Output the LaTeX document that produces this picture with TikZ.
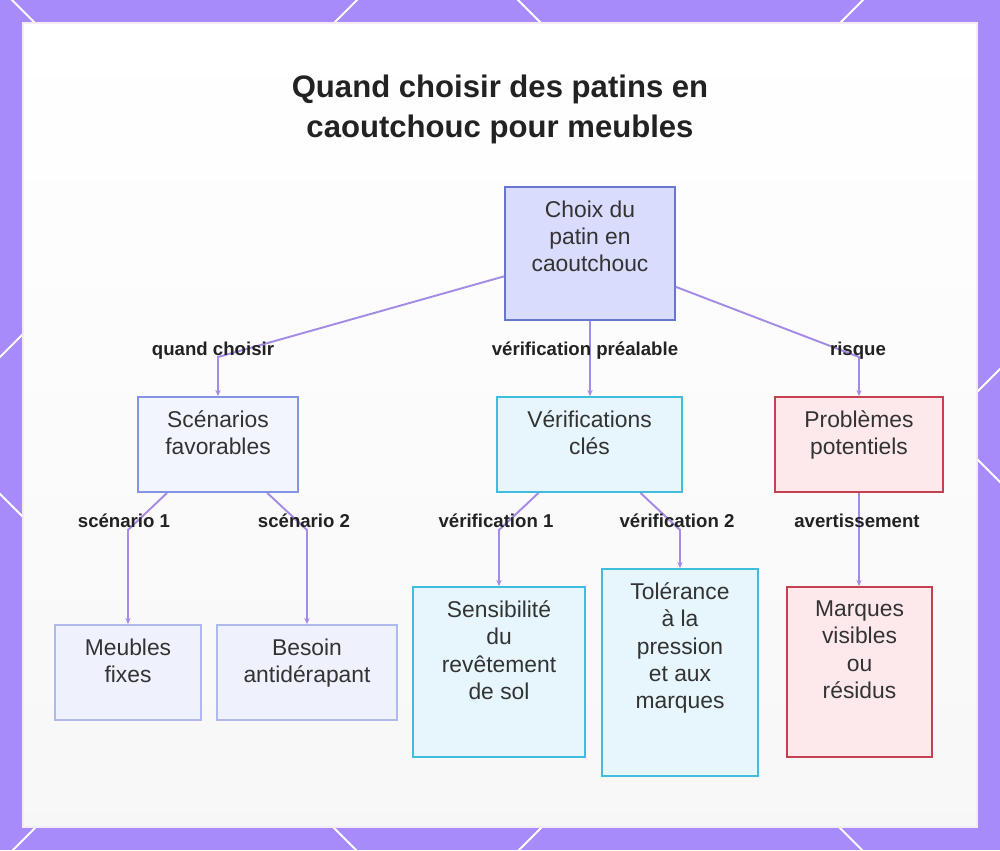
\documentclass[tikz,border=0pt]{standalone}
\usepackage{fontspec}
\setmainfont{Liberation Sans}
\usepackage{tikz}
\usetikzlibrary{arrows.meta}
\usepackage{xcolor}
\definecolor{framepurple}{HTML}{A78BFA}
\definecolor{linkpurple}{HTML}{A58BE6}
\definecolor{ink}{HTML}{333333}
\definecolor{inkdark}{HTML}{222222}
\definecolor{rootfill}{HTML}{D9DCFC}
\definecolor{rootline}{HTML}{6777CF}
\definecolor{bluefill}{HTML}{F2F4FE}
\definecolor{blueline}{HTML}{8594E2}
\definecolor{leaffill}{HTML}{EFF1FD}
\definecolor{leafline}{HTML}{B0B9EE}
\definecolor{cyanfill}{HTML}{E6F6FC}
\definecolor{cyanline}{HTML}{3FBDDF}
\definecolor{redfill}{HTML}{FDE8EC}
\definecolor{redline}{HTML}{C6414F}
\newlength\unitpx
\setlength\unitpx{0.02cm}
\newcommand\boxfont{\fontsize{13}{15.6}\selectfont}
\newcommand\tagfont{\fontsize{10.6}{12.7}\selectfont\bfseries}
\newcommand\titlefont{\fontsize{17.7}{22.7}\selectfont\bfseries}

\begin{document}
\begin{tikzpicture}[x=0.02cm, y=-0.02cm,
    box/.style={rectangle, line width=1pt},
    rootbox/.style={box, draw=rootline, fill=rootfill},
    bluebox/.style={box, draw=blueline, fill=bluefill},
    leafbox/.style={box, draw=leafline, fill=leaffill},
    cyanbox/.style={box, draw=cyanline, fill=cyanfill},
    redbox/.style={box, draw=redline, fill=redfill},
    boxtext/.style={font=\boxfont, text=ink, align=center, inner sep=0pt,
                    anchor=north, yshift=-14\unitpx},
    tag/.style={font=\tagfont, text=inkdark, inner sep=0pt, anchor=base},
    link/.style={-{Stealth[length=3.5pt, width=3pt]}, line width=1.1pt, color=linkpurple}
  ]
    \useasboundingbox (0,0) rectangle (1000,850);
    % frame and lattice
    \fill[framepurple] (0,0) rectangle (1000,850);
    \begin{scope}
      \clip (0,0) rectangle (1000,850);
      \foreach \c in {-518,-12,494}
        \draw[white, line width=1.1pt] (-100,-100+\c) -- (1100,1100+\c);
      \foreach \d in {357,863,1369}
        \draw[white, line width=1.1pt] (-100,\d+100) -- (1100,\d-1100);
    \end{scope}
    \shade[top color=white, middle color=black!6, bottom color=black!3]
      (23,23) rectangle (977,827);
    \draw[violet!8, line width=0.8pt] (23,23) rectangle (977,827);

    \node[font=\titlefont, text=inkdark, align=center, inner sep=0pt, anchor=north]
      (title) at (500,74.5) {Quand choisir des patins en\\caoutchouc pour meubles};

    % boxes
    \node[rootbox, minimum width=170\unitpx, minimum height=133\unitpx,
      label={[boxtext]north:Choix du\\patin en\\caoutchouc}] (root) at (590,253.5) {};
    \node[bluebox, minimum width=160\unitpx, minimum height=95\unitpx,
      label={[boxtext]north:Scénarios\\favorables}] (scen) at (218,444.5) {};
    \node[cyanbox, minimum width=185\unitpx, minimum height=95\unitpx,
      label={[boxtext]north:Vérifications\\clés}] (verif) at (589.5,444.5) {};
    \node[redbox, minimum width=168\unitpx, minimum height=95\unitpx,
      label={[boxtext]north:Problèmes\\potentiels}] (prob) at (859,444.5) {};
    \node[leafbox, minimum width=146\unitpx, minimum height=95\unitpx,
      label={[boxtext]north:Meubles\\fixes}] (meub) at (128,672.5) {};
    \node[leafbox, minimum width=180\unitpx, minimum height=95\unitpx,
      label={[boxtext]north:Besoin\\antidérapant}] (besoin) at (307,672.5) {};
    \node[cyanbox, minimum width=172\unitpx, minimum height=170\unitpx,
      label={[boxtext]north:Sensibilité\\du\\revêtement\\de sol}] (sens) at (499,672) {};
    \node[cyanbox, minimum width=156\unitpx, minimum height=207\unitpx,
      label={[boxtext]north:Tolérance\\à la\\pression\\et aux\\marques}] (tol) at (680,672.5) {};
    \node[redbox, minimum width=145\unitpx, minimum height=170\unitpx,
      label={[boxtext]north:Marques\\visibles\\ou\\résidus}] (marq) at (859.5,672) {};

    % links
    \draw[link] ([yshift=-13pt]root.west) -- (scen.north |- 0,357) -- (scen.north);
    \draw[link] (root.south) -- (root.south |- verif.north);
    \draw[link] ([yshift=-19pt]root.east) -- (prob.north |- 0,357) -- (prob.north);
    \draw[link] ([xshift=-29pt]scen.south) -- (meub.north |- 0,530) -- (meub.north);
    \draw[link] ([xshift=28pt]scen.south) -- (besoin.north |- 0,530) -- (besoin.north);
    \draw[link] ([xshift=-29pt]verif.south) -- (sens.north |- 0,530) -- (sens.north);
    \draw[link] ([xshift=29pt]verif.south) -- (tol.north |- 0,530) -- (tol.north);
    \draw[link] (prob.south) -- (prob.south |- marq.north);

    % link labels
    \node[tag] (q) at (213,355) {quand choisir};
    \node[tag] (vp) at (585,355) {vérification préalable};
    \node[tag] (ri) at (858,355) {risque};
    \node[tag] (s1) at (124,527) {scénario 1};
    \node[tag] (s2) at (304,527) {scénario 2};
    \node[tag] (v1) at (496,527) {vérification 1};
    \node[tag] (v2) at (677,527) {vérification 2};
    \node[tag] (av) at (857,527) {avertissement};
  \end{tikzpicture}
\end{document}
